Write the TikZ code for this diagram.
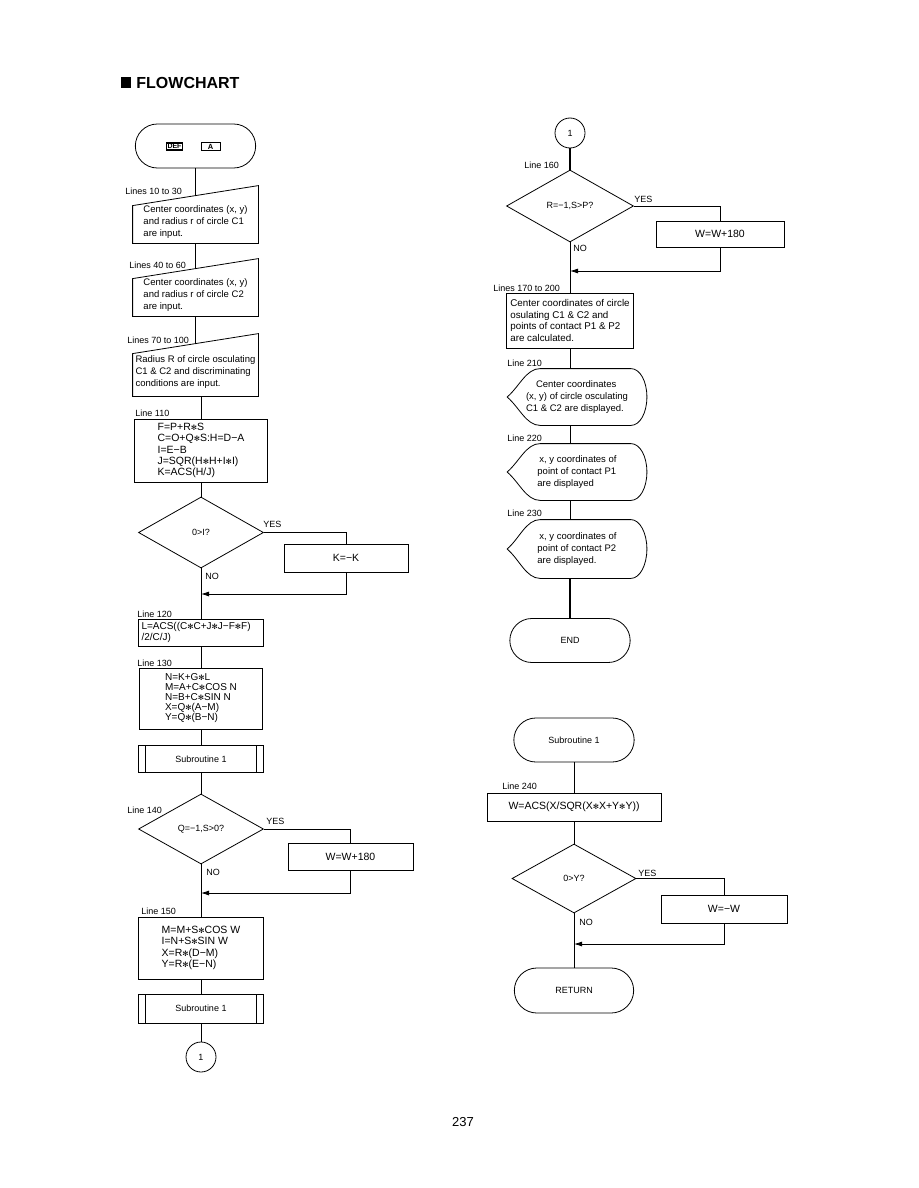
\documentclass[tikz,border=0pt]{standalone}
\usepackage{fontspec}
\setmainfont{Liberation Sans}
\newfontfamily\symfont{DejaVu Sans}
\usetikzlibrary{shapes.geometric,shapes.misc,calc,arrows.meta}

\newcommand{\mul}{{\symfont\fontsize{7.5}{8}\selectfont\char"273B}}

\begin{document}
\begin{tikzpicture}[
    x=1pt, y=1pt,
    line width=0.8pt,
    font=\fontsize{9.5}{12}\selectfont,
    term/.style={rounded rectangle, draw, minimum width=127pt, minimum height=44pt, font=\fontsize{9}{11}\selectfont},
    procbox/.style={rectangle, draw, align=left, font=\fontsize{10.5}{11.3}\selectfont},
    inshape/.style={rectangle, align=left, inner sep=0pt, minimum width=125pt, minimum height=42pt},
    dispshape/.style={rectangle, align=left, inner sep=0pt, minimum width=139pt, minimum height=56pt},
    subbox/.style={rectangle, draw, minimum width=125pt, minimum height=27pt, font=\fontsize{9}{11}\selectfont,
        path picture={\draw ([xshift=7pt]path picture bounding box.north west) -- ([xshift=7pt]path picture bounding box.south west)
                            ([xshift=-7pt]path picture bounding box.north east) -- ([xshift=-7pt]path picture bounding box.south east);}},
    decide/.style={diamond, draw, inner sep=0pt, minimum width=125pt, minimum height=71pt, aspect=1.75, font=\fontsize{9}{11}\selectfont},
    onpage/.style={circle, draw, minimum size=30pt, inner sep=0pt, font=\fontsize{9}{11}\selectfont},
    lbl/.style={anchor=base west, inner sep=0pt, font=\fontsize{9}{10}\selectfont},
    merge/.style={-{Latex[length=8pt,width=5pt]}},
    heavy/.style={line width=1.8pt}
]

\useasboundingbox (0,0) rectangle (918,-1188);

% --- title ---
\node[fill=black, minimum width=10pt, minimum height=11pt, inner sep=0pt] (bullet) at (126,-82.5) {};
\node[anchor=west, inner sep=0pt, font=\fontsize{16}{16}\selectfont\bfseries] (title) at (136,-82.5) {FLOWCHART};

% --- left column: main program ---
\node[term] (start) at (195.5,-146) {};
\node[draw, line width=1.3pt, inner sep=1.2pt, font=\fontsize{7}{7}\selectfont\bfseries] (kdef) at (174.5,-146.5) {DEF};
\node[draw, minimum width=19pt, inner sep=1.2pt, font=\fontsize{7.5}{7.5}\selectfont\bfseries] (ka) at (210.5,-146.5) {A};

\node[inshape] (in1) at (195.5,-222) {Center coordinates (x, y)\\and radius r of circle C1\\are input.};
\node[inshape] (in2) at (195.5,-295) {Center coordinates (x, y)\\and radius r of circle C2\\are input.};
\node[inshape, minimum height=47pt] (in3) at (195.5,-372.5) {Radius R of circle osculating\\C1 \& C2 and discriminating\\conditions are input.};

\node[procbox, minimum width=133pt, minimum height=63pt] (b110) at (201,-450.5)
    {F=P+R\mul S\\C=O+Q\mul S:H=D−A\\I=E−B\\J=SQR(H\mul H+I\mul I)\\K=ACS(H/J)};
\node[decide] (q1) at (201,-532.5) {0>I?};
\node[procbox, align=center, minimum width=124pt, minimum height=28pt] (b110y) at (346,-558) {K=−K};
\coordinate (j1) at (201,-594);

\node[procbox, text width=119pt, minimum width=123pt, minimum height=27pt, font=\fontsize{10}{11}\selectfont] (b120) at (201,-632.5)
    {L=ACS((C\mul C+J\mul J−F\mul F)\\/2/C/J)};
\node[procbox, minimum width=123pt, minimum height=61pt, font=\fontsize{10}{10}\selectfont] (b130) at (201,-698.5)
    {N=K+G\mul L\\M=A+C\mul COS N\\N=B+C\mul SIN N\\X=Q\mul(A−M)\\Y=Q\mul(B−N)};
\node[subbox] (sub1) at (201,-759) {Subroutine 1};

\node[decide, minimum height=70pt] (q2) at (201,-829) {Q=−1,S>0?};
\node[procbox, align=center, minimum width=125pt, minimum height=27pt] (b140y) at (350.5,-856.5) {W=W+180};
\coordinate (j2) at (201,-893);

\node[procbox, minimum width=125pt, minimum height=62pt] (b150) at (201,-948)
    {M=M+S\mul COS W\\I=N+S\mul SIN W\\X=R\mul(D−M)\\Y=R\mul(E−N)};
\node[subbox, minimum height=29pt] (sub2) at (201,-1008.5) {Subroutine 1};
\node[onpage] (off1) at (201,-1057) {1};

% --- right column: continuation ---
\node[onpage] (off2) at (570,-133) {1};
\node[decide, minimum width=127pt, minimum height=72pt] (q3) at (570,-206) {R=−1,S>P?};
\node[procbox, align=center, minimum width=128pt, minimum height=26pt] (b160y) at (720,-234) {W=W+180};
\coordinate (j3) at (570,-271);

\node[procbox, minimum width=127pt, minimum height=55pt, font=\fontsize{9.8}{11.5}\selectfont] (b170) at (570,-320.5)
    {Center coordinates of circle\\osulating C1 \& C2 and\\points of contact P1 \& P2\\are calculated.};

\node[dispshape] (dp1) at (577,-397) {\hspace*{10pt}Center coordinates\\(x, y) of circle osculating\\C1 \& C2 are displayed.};
\node[dispshape] (dp2) at (577,-472) {\hspace*{2pt}x, y coordinates of\\point of contact P1\\are displayed};
\node[dispshape, minimum height=58pt] (dp3) at (577,-549) {\hspace*{2pt}x, y coordinates of\\point of contact P2\\are displayed.};

\node[term] (endt) at (570,-640.5) {END};

% --- right column: subroutine ---
\node[term] (subt) at (574,-740) {Subroutine 1};
\node[procbox, align=center, minimum width=174pt, minimum height=28pt] (b240) at (574,-807) {W=ACS(X/SQR(X\mul X+Y\mul Y))};
\node[decide, minimum width=124pt, minimum height=69pt] (q4) at (574,-878.5) {0>Y?};
\node[procbox, align=center, minimum width=126pt, minimum height=28pt] (b240y) at (724,-909) {W=−W};
\coordinate (j4) at (574,-944);
\node[term, minimum width=126pt, minimum height=45pt] (rett) at (574,-990.5) {RETURN};

% --- outlines of input and display boxes ---
\foreach \n in {in1,in2,in3}
  \draw (\n.south west) -- (\n.south east) -- ([yshift=15pt]\n.north east) -- ([yshift=-5pt]\n.north west) -- cycle;
\foreach \n in {dp1,dp2,dp3}
  \draw ($(\n.north west)+(33,0)$) -- ($(\n.north east)+(-16,0)$)
    .. controls +(9,0) and +(0,16) .. (\n.east)
    .. controls +(0,-16) and +(9,0) .. ($(\n.south east)+(-16,0)$)
    -- ($(\n.south west)+(33,0)$)
    .. controls +(-14,0) and +(12,-10) .. (\n.west)
    .. controls +(12,10) and +(-14,0) .. ($(\n.north west)+(33,0)$) -- cycle;

% --- connectors, left ---
\draw (start.south) -- ([yshift=5pt]in1.north);
\draw (in1.south) -- ([yshift=5pt]in2.north);
\draw (in2.south) -- ([yshift=5pt]in3.north);
\draw (b110.north |- in3.south) -- (b110.north);
\draw (b110.south) -- (q1.north);
\draw (q1.east) -| (b110y.north);
\draw[merge] (b110y.south) |- (j1);
\draw (q1.south) -- (b120.north);
\draw (b120.south) -- (b130.north);
\draw (b130.south) -- (sub1.north);
\draw (sub1.south) -- (q2.north);
\draw (q2.east) -| (b140y.north);
\draw[merge] (b140y.south) |- (j2);
\draw (q2.south) -- (b150.north);
\draw (b150.south) -- (sub2.north);
\draw (sub2.south) -- (off1.north);

% --- connectors, right ---
\draw[heavy] (off2.south) -- (q3.north);
\draw (q3.east) -| (b160y.north);
\draw[merge] (b160y.south) |- (j3);
\draw (q3.south) -- (b170.north);
\draw (b170.south) -- (b170.south |- dp1.north);
\draw (b170.south |- dp1.south) -- (b170.south |- dp2.north);
\draw (b170.south |- dp2.south) -- (b170.south |- dp3.north);
\draw[heavy] (b170.south |- dp3.south) -- (endt.north);
\draw (subt.south) -- (b240.north);
\draw (b240.south) -- (q4.north);
\draw (q4.east) -| (b240y.north);
\draw[merge] (b240y.south) |- (j4);
\draw (q4.south) -- (rett.north);

% --- line labels ---
\node[lbl] (l10) at (125,-194) {Lines 10 to 30};
\node[lbl] (l40) at (129,-268) {Lines 40 to 60};
\node[lbl] (l70) at (127,-343) {Lines 70 to 100};
\node[lbl] (l110) at (135,-416) {Line 110};
\node[lbl] (l120) at (137,-617) {Line 120};
\node[lbl] (l130) at (137,-666) {Line 130};
\node[lbl] (l140) at (127,-813) {Line 140};
\node[lbl] (l150) at (141,-914) {Line 150};
\node[lbl] (l160) at (524,-168) {Line 160};
\node[lbl] (l170) at (493,-291) {Lines 170 to 200};
\node[lbl] (l210) at (507,-366) {Line 210};
\node[lbl] (l220) at (507,-441) {Line 220};
\node[lbl] (l230) at (507,-516) {Line 230};
\node[lbl] (l240) at (502,-789) {Line 240};

% --- branch labels ---
\node[lbl] (yes1) at (263,-527.5) {YES};
\node[lbl] (no1) at (205,-579) {NO};
\node[lbl] (yes2) at (266,-824) {YES};
\node[lbl] (no2) at (206,-875) {NO};
\node[lbl] (yes3) at (634,-202) {YES};
\node[lbl] (no3) at (573,-251) {NO};
\node[lbl] (yes4) at (638,-876) {YES};
\node[lbl] (no4) at (579,-925) {NO};

% --- page number ---
\node[font=\fontsize{13}{13}\selectfont] (pageno) at (463,-1122) {237};

\end{tikzpicture}
\end{document}
